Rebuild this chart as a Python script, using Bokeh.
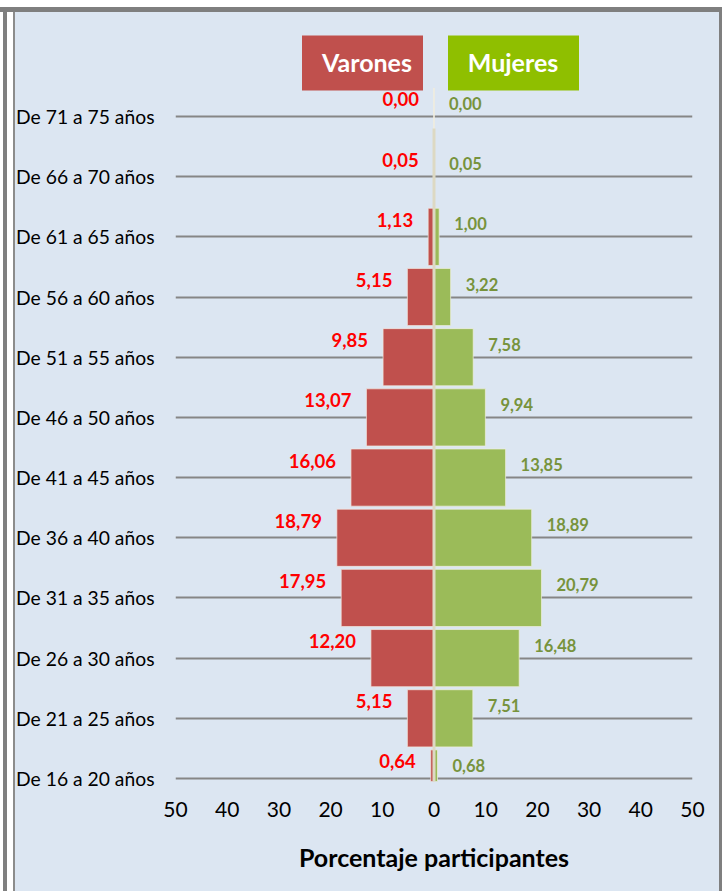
from bokeh.plotting import figure
from bokeh.models import FixedTicker, ColumnDataSource
from bokeh.core.properties import value
from bokeh.embed import file_html
from bokeh.resources import INLINE

# ---------------- data ----------------
categories = ["De 16 a 20 años", "De 21 a 25 años", "De 26 a 30 años", "De 31 a 35 años",
              "De 36 a 40 años", "De 41 a 45 años", "De 46 a 50 años", "De 51 a 55 años",
              "De 56 a 60 años", "De 61 a 65 años", "De 66 a 70 años", "De 71 a 75 años"]
varones = [0.64, 5.15, 12.20, 17.95, 18.79, 16.06, 13.07, 9.85, 5.15, 1.13, 0.05, 0.00]
mujeres = [0.68, 7.51, 16.48, 20.79, 18.89, 13.85, 9.94, 7.58, 3.22, 1.00, 0.05, 0.00]
x_ticks = [-50, -40, -30, -20, -10, 0, 10, 20, 30, 40, 50]
x_tick_labels = ["50", "40", "30", "20", "10", "0", "10", "20", "30", "40", "50"]
legend_names = ["Varones", "Mujeres"]

def fmt(v):
    return f"{v:.2f}".replace(".", ",")

FONT = "Lato"
BG = "#dce6f2"
RED_BAR = "#c0504d"
GREEN_BAR = "#9bbb59"

n = len(categories)
ys = list(range(n))

W, H = 722, 891
p = figure(width=W, height=H, output_backend="svg", toolbar_location=None,
           x_range=(-50, 50), y_range=(-0.05, 12.595),
           min_border_left=175, min_border_right=30, min_border_top=20, min_border_bottom=110)
p.background_fill_color = None
p.border_fill_color = None
p.outline_line_color = None

# chart-area frame (grey/white borders) painted behind the transparent canvas
p.styles = {
    "background": ("linear-gradient(to bottom, #ffffff 0px, #ffffff 7px, #7f7f7f 7px, #7f7f7f 12px, transparent 12px), "
                   "linear-gradient(to right, #ffffff 0px, #ffffff 3px, #7f7f7f 3px, #7f7f7f 7px, "
                   "#ffffff 7px, #ffffff 13px, #8c8c8c 13px, #8c8c8c 15px, transparent 15px), "
                   "linear-gradient(to left, #7f7f7f 0px, #7f7f7f 3px, transparent 3px), "
                   + BG),
}

# grid
p.xgrid.visible = False
p.ygrid.ticker = FixedTicker(ticks=ys)
p.ygrid.grid_line_color = "#868686"
p.ygrid.grid_line_width = 2

# y axis (categories)
p.yaxis.ticker = FixedTicker(ticks=ys)
p.yaxis.major_label_overrides = {i: c for i, c in enumerate(categories)}
p.yaxis.axis_line_color = None
p.yaxis.major_tick_line_color = None
p.yaxis.minor_tick_line_color = None
p.yaxis.major_label_standoff = 15
p.yaxis.major_label_text_font = FONT
p.yaxis.major_label_text_font_size = "19.3px"
p.yaxis.major_label_text_color = "#000000"

# x axis
p.xaxis.ticker = FixedTicker(ticks=x_ticks)
p.xaxis.major_label_overrides = {t: l for t, l in zip(x_ticks, x_tick_labels)}
p.xaxis.axis_line_color = None
p.xaxis.major_tick_line_color = None
p.xaxis.minor_tick_line_color = None
p.xaxis.major_label_standoff = 14
p.xaxis.major_label_text_font = FONT
p.xaxis.major_label_text_font_size = "21px"
p.xaxis.major_label_text_color = "#000000"
p.xaxis.axis_label = "Porcentaje participantes"
p.xaxis.axis_label_text_font = FONT
p.xaxis.axis_label_text_font_style = "bold"
p.xaxis.axis_label_text_font_size = "25px"
p.xaxis.axis_label_text_color = "#000000"
p.xaxis.axis_label_standoff = 22

# bars
src = ColumnDataSource(dict(
    y=ys,
    m_left=[-v for v in varones], zero=[0] * n, f_right=mujeres,
    m_lab=[fmt(v) for v in varones], f_lab=[fmt(v) for v in mujeres],
))
bar_h = 0.95
p.hbar(y="y", left="m_left", right="zero", height=bar_h, source=src,
       fill_color=RED_BAR, line_color="#f4e8e0", line_alpha=0.7, line_width=1)
p.hbar(y="y", left="zero", right="f_right", height=bar_h, source=src,
       fill_color=GREEN_BAR, line_color="#f0f0e0", line_alpha=0.7, line_width=1)

# zero axis line (beige)
p.segment(x0=[0], y0=[n - 1 - 0.2], x1=[0], y1=[-0.05], line_color="#ddd9c3", line_width=3)

# data labels
p.text(x="m_left", y="y", text="m_lab", source=src, x_offset=-15, y_offset=-17,
       text_align="right", text_baseline="middle", text_color="#ff0000",
       text_font=value(FONT), text_font_style="bold", text_font_size="18.5px")
p.text(x="f_right", y="y", text="f_lab", source=src, x_offset=15, y_offset=-13,
       text_align="left", text_baseline="middle", text_color="#77933c",
       text_font=value(FONT), text_font_style="bold", text_font_size="16.5px")

# legend boxes (decoration, positioned from page pixels)
def px_x(px):
    return (px - 434) / 5.17

def px_y(py):
    return (778 - py) / 60.18

p.quad(left=[px_x(302), px_x(448)], right=[px_x(423), px_x(579)],
       top=[px_y(35), px_y(35)], bottom=[px_y(90), px_y(90)],
       fill_color=[RED_BAR, "#8fbf00"], line_color=None)
p.text(x=[px_x(367), px_x(513)], y=[px_y(62), px_y(62)], text=legend_names,
       text_align="center", text_baseline="middle", text_color="#ffffff",
       text_font=value(FONT), text_font_style="bold", text_font_size="25px")

open("out.html", "w").write(file_html(p, INLINE))
